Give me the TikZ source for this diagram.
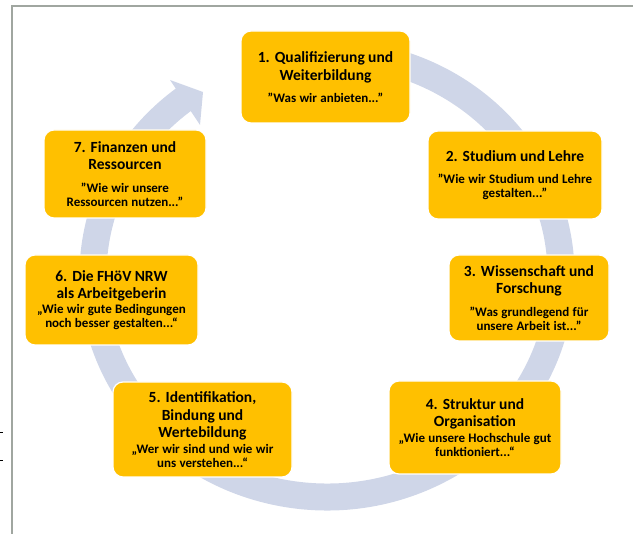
\documentclass[tikz,border=0pt]{standalone}
\usepackage{fontspec}
\setmainfont{Carlito}
\usetikzlibrary{calc}
\definecolor{gold}{RGB}{255,192,0}
\definecolor{bandcol}{RGB}{207,214,232}
\definecolor{framecol}{RGB}{160,166,160}
\newcommand\stT[1]{{\fontsize{15.5}{17.7}\selectfont #1\par}}
\newcommand\stQ[1]{{\fontsize{13}{14.3}\selectfont #1\par}}
\begin{document}
\begin{tikzpicture}[x=1pt,y=1pt,
  stage/.style={draw=white, line width=1.2pt, fill=gold, rounded corners=10pt,
    inner sep=0pt, align=center, font=\bfseries, text=black},
  band/.style={draw=bandcol, line width=27pt}]
\useasboundingbox (0,0) rectangle (633,-534);
% frame
\draw[framecol, line width=1.3pt] (633,-6) -- (12,-6) -- (12,-534);
\draw[black, line width=0.6pt] (0,-432) -- (3,-432);
\draw[black, line width=0.6pt] (0,-460) -- (3,-460);
% circular arrow
\coordinate (ctr) at (327,-275);
\draw[band] ($(ctr)+(80:234pt and 222pt)$) arc[start angle=80, end angle=-232.5, x radius=234pt, y radius=222pt];
\coordinate (wa) at (170,-80);
\coordinate (tip) at (203,-92);
\coordinate (wb) at (200,-125);
\fill[bandcol] (wa) -- (tip) -- (wb) -- cycle;
% stages
\node[stage, minimum width=169pt, minimum height=92pt, text width=163pt] (s1) at (325.5,-77)
  {\stT{1. Qualifizierung und\\Weiterbildung}\vspace{8pt}\stQ{"Was wir anbieten..."}};
\node[stage, minimum width=174pt, minimum height=88pt, text width=168pt] (s2) at (515,-175)
  {\stT{2. Studium und Lehre}\vspace{8pt}\stQ{"Wie wir Studium und Lehre\\gestalten..."}};
\node[stage, minimum width=160pt, minimum height=86pt, text width=154pt] (s3) at (529,-298)
  {\stT{3. Wissenschaft und\\Forschung}\vspace{8pt}\stQ{"Was grundlegend für\\unsere Arbeit ist..."}};
\node[stage, minimum width=172pt, minimum height=93pt, text width=166pt] (s4) at (475,-427.5)
  {\stT{4. Struktur und\\Organisation}\vspace{1pt}\stQ{„Wie unsere Hochschule gut\\funktioniert...“}};
\node[stage, minimum width=179pt, minimum height=95pt, text width=173pt] (s5) at (202.5,-429.5)
  {\stT{5. Identifikation,\\Bindung und\\Wertebildung}\vspace{1pt}\stQ{„Wer wir sind und wie wir\\uns verstehen...“}};
\node[stage, minimum width=173pt, minimum height=90pt, text width=167pt] (s6) at (111.5,-300)
  {\stT{6. Die FHöV NRW\\als Arbeitgeberin}\vspace{0pt}\stQ{„Wie wir gute Bedingungen\\noch besser gestalten...“}};
\node[stage, minimum width=162pt, minimum height=88pt, text width=156pt] (s7) at (125,-174)
  {\stT{7. Finanzen und\\Ressourcen}\vspace{8pt}\stQ{"Wie wir unsere\\Ressourcen nutzen..."}};
\end{tikzpicture}
\end{document}
